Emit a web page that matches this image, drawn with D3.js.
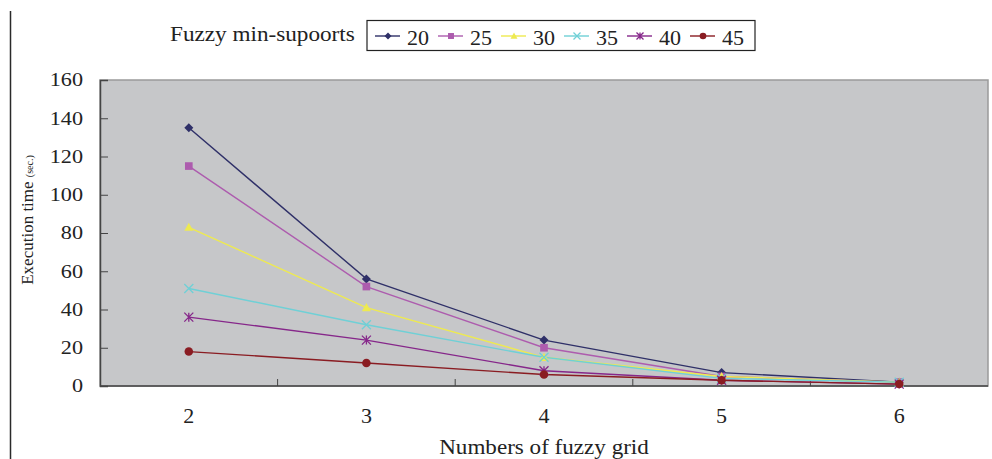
<!DOCTYPE html>
<html>
<head>
<meta charset="utf-8">
<script src="https://cdn.jsdelivr.net/npm/d3@7"></script>
<style>
  body { margin: 0; background: #fff; }
  text, tspan { font-family: 'Liberation Serif', 'Times New Roman', serif !important; }
</style>
</head>
<body>
<svg id="chart"></svg>
<script>
const grids = [2, 3, 4, 5, 6];
const yTicks = [0, 20, 40, 60, 80, 100, 120, 140, 160];
const supports = ["20", "25", "30", "35", "40", "45"];
const s20 = [135, 56, 24, 7, 2];
const s25 = [115, 52, 20, 5, 2];
const s30 = [83, 41, 15, 5, 2];
const s35 = [51, 32, 15, 4, 2];
const s40 = [36, 24, 8, 3, 1];
const s45 = [18, 12, 6, 3, 1];
const colors = ["#2f3068", "#ad5cae", "#eeea50", "#6fd0d6", "#86278a", "#8a1c22"];
const shapes = ["diamond", "square", "triangle", "x", "star", "circle"];

const series = supports.map((name, i) => ({
  name, color: colors[i], shape: shapes[i],
  values: [s20, s25, s30, s35, s40, s45][i]
}));

const W = 992, H = 459;
const m = {left: 100, right: 4, top: 80, bottom: 73};

let svg = d3.select("svg#chart").attr("width", W).attr("height", H);

const x = d3.scaleBand().domain(grids).range([m.left, W - m.right]).padding(0);
const y = d3.scaleLinear().domain([0, 160]).range([H - m.bottom, m.top]);

// the scanned figure is a bit wider than tall, so text gets a horizontal stretch
function place(sel, px, py, sx) {
  return sel.attr("transform", (d, i) => {
    const X = typeof px === "function" ? px(d, i) : px;
    const Y = typeof py === "function" ? py(d, i) : py;
    return `translate(${X},${Y}) scale(${sx},1)`;
  });
}

// page border line on the left
svg.append("line").attr("x1", 10.5).attr("x2", 10.5).attr("y1", 11).attr("y2", H)
  .attr("stroke", "#2a2a2a").attr("stroke-width", 1.5);

// plot area
svg.append("rect").attr("x", m.left).attr("y", m.top)
  .attr("width", W - m.right - m.left).attr("height", H - m.bottom - m.top)
  .attr("fill", "#c6c7c9").attr("stroke", "#9a9a9a").attr("stroke-width", 1.5);

// y axis
const yAxis = svg.append("g").attr("transform", `translate(${m.left},0)`)
  .call(d3.axisRight(y).tickValues(yTicks).tickSize(8).tickFormat(""));
yAxis.select(".domain").attr("stroke", "#444").attr("stroke-width", 1.5);
yAxis.selectAll(".tick line").attr("stroke", "#444");
place(svg.append("g").selectAll("text").data(yTicks).join("text"), 83, d => y(d), 1.2)
  .attr("dy", "0.34em").attr("fill", "#222")
  .attr("text-anchor", "end").style("font-size", "18.5px").text(d => d);

// x axis (ticks between bands, pointing up)
const xBounds = grids.slice(1).map(g => x(g));
const xg = svg.append("g");
xg.append("line").attr("x1", m.left).attr("x2", W - m.right)
  .attr("y1", y(0)).attr("y2", y(0)).attr("stroke", "#444").attr("stroke-width", 1.5);
xg.selectAll(".tk").data(xBounds).join("line").attr("class", "tk")
  .attr("x1", d => d).attr("x2", d => d).attr("y1", y(0)).attr("y2", y(0) - 7)
  .attr("stroke", "#444");
xg.selectAll("text").data(grids).join("text")
  .attr("x", d => x(d) + x.bandwidth() / 2).attr("y", 423).attr("fill", "#222")
  .attr("text-anchor", "middle").style("font-size", "22px").text(d => d);

place(svg.append("text"), 544, 454, 1.1).attr("text-anchor", "middle").attr("fill", "#222")
  .style("font-size", "21px").text("Numbers of fuzzy grid");

// y title
const yt = svg.append("text").attr("transform", "translate(33,220) rotate(-90)")
  .attr("text-anchor", "middle").attr("fill", "#222").style("font-size", "17px");
yt.append("tspan").text("Execution time ");
yt.append("tspan").style("font-size", "10px").text("(sec.)");

function drawMarker(g, shape, color, s) {
  if (shape === "diamond") {
    g.append("path").attr("d", `M0,${-s}L${s},0L0,${s}L${-s},0Z`).attr("fill", color);
  } else if (shape === "square") {
    g.append("rect").attr("x", -s * 0.85).attr("y", -s * 0.85).attr("width", s * 1.7).attr("height", s * 1.7).attr("fill", color);
  } else if (shape === "triangle") {
    g.append("path").attr("d", `M0,${-s}L${s},${s * 0.8}L${-s},${s * 0.8}Z`).attr("fill", color);
  } else if (shape === "x") {
    g.append("path").attr("d", `M${-s},${-s}L${s},${s}M${-s},${s}L${s},${-s}`).attr("stroke", color).attr("stroke-width", 1.3);
  } else if (shape === "star") {
    g.append("path").attr("d", `M${-s},${-s}L${s},${s}M${-s},${s}L${s},${-s}M0,${-s}L0,${s}`).attr("stroke", color).attr("stroke-width", 1.3);
  } else {
    g.append("circle").attr("r", s * 0.95).attr("fill", color);
  }
}

const line = d3.line().x((d, i) => x(grids[i]) + x.bandwidth() / 2).y(d => y(d));

series.forEach(s => {
  svg.append("path").datum(s.values).attr("d", line)
    .attr("fill", "none").attr("stroke", s.color).attr("stroke-width", 1.4);
});
series.forEach(s => {
  s.values.forEach((v, i) => {
    const g = svg.append("g").attr("transform", `translate(${x(grids[i]) + x.bandwidth() / 2},${y(v)})`);
    drawMarker(g, s.shape, s.color, 4.5);
  });
});

// legend
place(svg.append("text"), 170, 41, 1.16).attr("fill", "#222")
  .style("font-size", "20px").text("Fuzzy min-supoorts");
svg.append("rect").attr("x", 367).attr("y", 20.5).attr("width", 388).attr("height", 30)
  .attr("fill", "#fff").attr("stroke", "#222").attr("stroke-width", 1.2);
const leg = svg.append("g").selectAll("g").data(series).join("g")
  .attr("transform", (d, i) => `translate(${375 + i * 63},36)`);
leg.append("line").attr("x1", 0).attr("x2", 25).attr("stroke", d => d.color).attr("stroke-width", 1.4);
leg.each(function(d) {
  drawMarker(d3.select(this).append("g").attr("transform", "translate(13,0)"), d.shape, d.color, 3.5);
});
leg.append("text").attr("x", 32).attr("y", 8.5).attr("fill", "#222")
  .style("font-size", "22px").text(d => d.name);
</script>
</body>
</html>
